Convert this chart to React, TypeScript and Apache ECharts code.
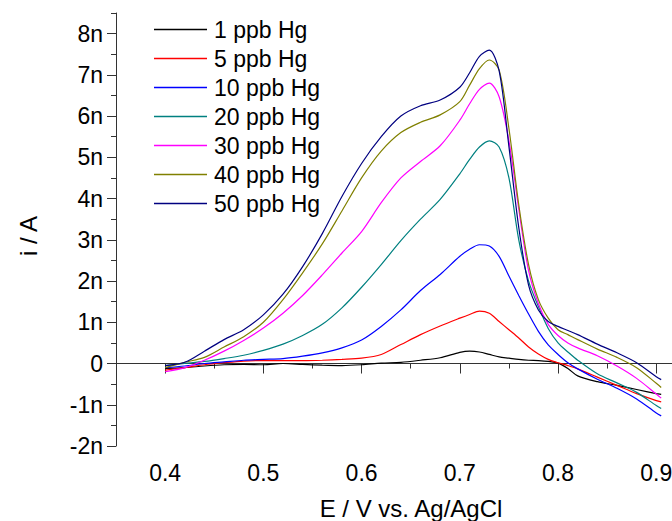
import React, { useEffect, useRef } from "react";
import * as echarts from "echarts";

const potentials = [0.40, 0.42, 0.44, 0.46, 0.48, 0.50, 0.52, 0.54, 0.56, 0.58, 0.60, 0.62, 0.64, 0.66, 0.68, 0.70, 0.71, 0.72, 0.73, 0.74, 0.75, 0.76, 0.77, 0.78, 0.79, 0.80, 0.81, 0.82, 0.84, 0.86, 0.88, 0.90, 0.905];

const hg1 = [-0.12, -0.10, -0.06, -0.03, -0.02, -0.03, 0.00, -0.02, -0.04, -0.05, -0.03, 0.01, 0.03, 0.08, 0.14, 0.27, 0.30, 0.28, 0.22, 0.16, 0.13, 0.10, 0.08, 0.07, 0.05, 0.01, -0.12, -0.30, -0.44, -0.53, -0.63, -0.73, -0.75];
const hg5 = [-0.16, -0.10, -0.03, 0.02, 0.06, 0.07, 0.07, 0.07, 0.08, 0.10, 0.13, 0.22, 0.46, 0.70, 0.91, 1.10, 1.19, 1.27, 1.22, 1.02, 0.82, 0.62, 0.40, 0.23, 0.10, 0.02, -0.05, -0.13, -0.33, -0.53, -0.73, -0.90, -0.93];
const hg10 = [-0.10, -0.06, 0.00, 0.04, 0.08, 0.10, 0.12, 0.18, 0.26, 0.38, 0.57, 0.90, 1.30, 1.77, 2.16, 2.60, 2.77, 2.88, 2.85, 2.60, 2.12, 1.65, 1.20, 0.78, 0.45, 0.22, 0.02, -0.13, -0.38, -0.60, -0.86, -1.20, -1.27];
const hg20 = [-0.05, 0.00, 0.05, 0.12, 0.20, 0.32, 0.47, 0.68, 0.95, 1.35, 1.85, 2.40, 2.98, 3.50, 3.98, 4.60, 4.95, 5.25, 5.40, 5.25, 4.50, 3.00, 2.00, 1.38, 0.85, 0.50, 0.28, 0.08, -0.25, -0.47, -0.70, -1.02, -1.09];
const hg30 = [-0.20, -0.10, 0.08, 0.30, 0.56, 0.86, 1.22, 1.65, 2.15, 2.68, 3.20, 3.90, 4.50, 4.90, 5.28, 5.90, 6.30, 6.65, 6.80, 6.47, 5.40, 3.75, 2.25, 1.45, 0.95, 0.68, 0.50, 0.38, 0.19, -0.06, -0.36, -0.74, -0.84];
const hg40 = [-0.10, 0.03, 0.15, 0.40, 0.65, 1.00, 1.55, 2.20, 2.90, 3.70, 4.50, 5.15, 5.60, 5.85, 6.03, 6.35, 6.75, 7.15, 7.36, 7.12, 5.70, 3.85, 2.40, 1.55, 1.10, 0.82, 0.70, 0.58, 0.35, 0.15, -0.10, -0.48, -0.58];
const hg50 = [-0.05, 0.03, 0.30, 0.58, 0.82, 1.18, 1.68, 2.35, 3.15, 4.05, 4.85, 5.50, 6.00, 6.25, 6.39, 6.70, 7.05, 7.45, 7.60, 7.10, 5.26, 3.30, 1.90, 1.30, 1.02, 0.90, 0.80, 0.70, 0.47, 0.26, 0.02, -0.32, -0.39];

const seriesNames = ["1 ppb Hg", "5 ppb Hg", "10 ppb Hg", "20 ppb Hg", "30 ppb Hg", "40 ppb Hg", "50 ppb Hg"];
const seriesValues = [hg1, hg5, hg10, hg20, hg30, hg40, hg50];
const seriesColors = ["#000000", "#ff0000", "#0000ff", "#008080", "#ff00ff", "#808000", "#000080"];

const xMajorTicks = [0.4, 0.5, 0.6, 0.7, 0.8, 0.9];
const xMinorTicks = [0.35, 0.45, 0.55, 0.65, 0.75, 0.85];
const yMajorTicks = [-2, -1, 0, 1, 2, 3, 4, 5, 6, 7, 8];
const yMinorTicks = [-1.5, -0.5, 0.5, 1.5, 2.5, 3.5, 4.5, 5.5, 6.5, 7.5, 8.5];

const xTitle = "E / V vs. Ag/AgCl";
const yTitle = "i / A";

const FONT = "Liberation Sans, Arial, sans-serif";

export default function App() {
  const ref = useRef<HTMLDivElement>(null);
  useEffect(() => {
    if (!ref.current) return;
    const chart = echarts.init(ref.current, null, { renderer: "svg" });
    const xMin = 0.35;
    const xMax = 0.916;
    const yMin = -2;
    const yMax = 8.5;
    const axisColor = "#333";
    chart.setOption({
      animation: false,
      backgroundColor: "#fff",
      textStyle: { fontFamily: FONT },
      grid: { left: 116, right: 0, top: 13, bottom: 75, containLabel: false, outerBoundsMode: "none" },
      legend: {
        orient: "vertical",
        left: 149,
        top: 13,
        padding: 5,
        icon: "rect",
        itemWidth: 53,
        itemHeight: 1.4,
        itemGap: 6,
        data: seriesNames,
        textStyle: { fontFamily: FONT, fontSize: 23, color: "#000", lineHeight: 23, padding: [0, 0, 0, 2] },
      },
      graphic: [
        {
          type: "text",
          x: 411,
          y: 508,
          style: {
            text: xTitle,
            fontFamily: FONT,
            fontSize: 24,
            fill: "#000",
            align: "center",
            verticalAlign: "middle",
          },
        },
        {
          type: "text",
          x: 28,
          y: 236,
          rotation: Math.PI / 2,
          style: {
            text: yTitle,
            fontFamily: FONT,
            fontSize: 24,
            fill: "#000",
            align: "center",
            verticalAlign: "middle",
          },
        },
      ],
      xAxis: [
        {
          type: "value",
          min: xMin,
          max: xMax,
          position: "bottom",
          axisLine: { show: true, lineStyle: { color: axisColor, width: 1 } },
          axisTick: { show: true, length: 10, customValues: xMajorTicks, lineStyle: { color: axisColor } },
          axisLabel: {
            customValues: xMajorTicks,
            margin: 15,
            fontFamily: FONT,
            fontSize: 23,
            color: "#000",
            formatter: (v: number) => v.toFixed(1),
          },
          splitLine: { show: false },
        },
        {
          type: "value",
          min: xMin,
          max: xMax,
          position: "bottom",
          axisLine: { show: false },
          axisTick: { show: true, length: 5, customValues: xMinorTicks, lineStyle: { color: axisColor } },
          axisLabel: { show: false },
          splitLine: { show: false },
        },
      ],
      yAxis: [
        {
          type: "value",
          min: yMin,
          max: yMax,
          position: "left",
          axisLine: { show: true, lineStyle: { color: axisColor, width: 1 } },
          axisTick: { show: true, length: 9, customValues: yMajorTicks, lineStyle: { color: axisColor } },
          axisLabel: {
            customValues: yMajorTicks,
            margin: 13,
            fontFamily: FONT,
            fontSize: 23,
            color: "#000",
            formatter: (v: number) => (v === 0 ? "0" : `${v}n`),
          },
          splitLine: { show: false },
        },
        {
          type: "value",
          min: yMin,
          max: yMax,
          position: "left",
          axisLine: { show: false },
          axisTick: { show: true, length: 5, customValues: yMinorTicks, lineStyle: { color: axisColor } },
          axisLabel: { show: false },
          splitLine: { show: false },
        },
      ],
      series: seriesNames.map((name, k) => ({
        name,
        type: "line",
        xAxisIndex: 0,
        yAxisIndex: 0,
        data: potentials.map((e, i) => [e, seriesValues[k][i]]),
        smooth: 0.3,
        symbol: "none",
        showSymbol: false,
        lineStyle: { color: seriesColors[k], width: 1.2 },
        itemStyle: { color: seriesColors[k] },
      })),
    });
    return () => chart.dispose();
  }, []);
  return (
    <div
      ref={ref}
      style={{ position: "fixed", left: 0, top: 0, width: 672, height: 521, background: "#fff" }}
    />
  );
}
